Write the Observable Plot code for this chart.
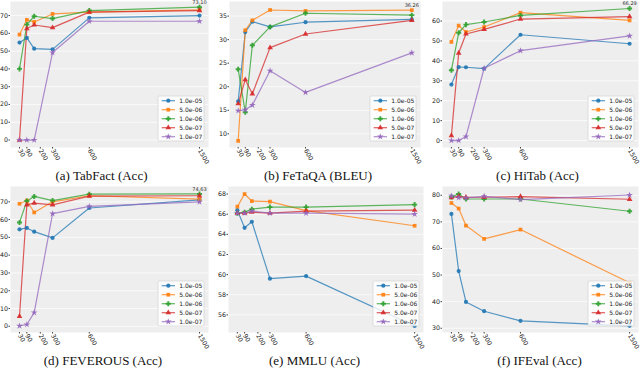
<!DOCTYPE html>
<html><head><meta charset="utf-8">
<script src="https://cdn.jsdelivr.net/npm/d3@7"></script>
<script src="https://cdn.jsdelivr.net/npm/@observablehq/plot@0.6"></script>
<style>
body{margin:0;background:#fff;}
#grid{display:grid;grid-template-columns:213px 213px 214px;width:640px;}
.cell{height:185px;overflow:visible;}
.cap{font-family:"Liberation Serif","Times New Roman",serif;font-size:13px;text-align:center;height:18px;line-height:18px;color:#111;white-space:nowrap;}
</style></head><body><div id="grid"></div>
<script>
const steps = [30, 90, 150, 300, 600, 1500];
const xTicks = [30, 90, 200, 300, 600, 1500];
const lrs = ["1.0e-05", "5.0e-06", "1.0e-06", "5.0e-07", "1.0e-07"];
const colors = ["#1f77b4", "#ff7f0e", "#2ca02c", "#d62728", "#9467bd"];

// rows = learning rates (lrs order), columns = steps
const tabfact = [
  [54.8, 57.4, 51.4, 51.0, 68.7, 70.0],
  [59.3, 67.6, 66.4, 70.9, 71.9, 73.2],
  [40.0, 64.9, 69.6, 68.3, 72.8, 74.7],
  [0.0, 62.7, 64.7, 63.2, 71.9, 72.8],
  [0.0, 0.0, 0.0, 49.2, 66.8, 66.8]
];
const fetaqa = [
  [16.9, 31.6, 33.8, 32.7, 33.7, 34.3],
  [8.5, 32.0, 34.1, 36.3, 36.1, 36.26],
  [23.7, 14.6, 28.8, 32.7, 35.6, 35.2],
  [16.4, 21.5, 18.5, 28.3, 31.2, 34.1],
  [14.9, 15.1, 16.1, 23.4, 18.8, 27.2]
];
const hitab = [
  [28.1, 36.9, 36.8, 36.1, 53.1, 48.6],
  [49.5, 57.7, 54.5, 57.0, 64.2, 60.3],
  [35.3, 54.1, 58.2, 59.5, 62.8, 66.29],
  [2.5, 43.9, 53.5, 55.8, 61.0, 62.2],
  [0.0, 0.0, 2.0, 36.3, 45.1, 52.5]
];
const feverous = [
  [54.5, 55.3, 53.2, 49.7, 66.5, 71.1],
  [68.9, 70.7, 64.0, 70.0, 73.4, 71.5],
  [58.4, 70.4, 73.0, 70.7, 74.3, 74.4],
  [5.6, 68.3, 69.3, 68.3, 73.2, 73.4],
  [0.2, 1.0, 7.7, 63.3, 67.4, 70.0]
];
const mmlu = [
  [66.4, 64.65, 65.25, 59.6, 59.85, 54.9],
  [66.75, 68.0, 67.3, 67.25, 66.35, 64.85],
  [66.1, 66.2, 66.5, 66.7, 66.7, 66.95],
  [66.1, 66.1, 66.2, 66.1, 66.3, 66.4],
  [66.1, 66.1, 66.3, 66.1, 66.1, 66.0]
];
const ifeval = [
  [73.0, 51.5, 39.9, 36.4, 32.8, 30.9],
  [77.1, 75.0, 68.6, 63.6, 67.1, 47.1],
  [79.4, 80.5, 78.6, 78.6, 78.6, 74.0],
  [79.1, 79.6, 79.25, 79.25, 79.5, 78.5],
  [79.75, 79.1, 79.0, 79.6, 78.4, 80.1]
];
const titles = ["(a) TabFact (Acc)", "(b) FeTaQA (BLEU)", "(c) HiTab (Acc)", "(d) FEVEROUS (Acc)", "(e) MMLU (Acc)", "(f) IFEval (Acc)"];
const yTicksA = [0, 10, 20, 30, 40, 50, 60, 70];
const yTicksB = [10, 15, 20, 25, 30, 35];
const yTicksC = [0, 10, 20, 30, 40, 50, 60];
const yTicksD = [0, 10, 20, 30, 40, 50, 60, 70];
const yTicksE = [56, 58, 60, 62, 64, 66, 68];
const yTicksF = [30, 40, 50, 60, 70, 80];
const notes = ["73.10", "36.26", "66.29", "74.63", null, null];
const noteSeries = [2, 1, 2, 2, null, null];

const plusFilled = {
  draw(ctx, size) {
    const r = Math.sqrt(size / Math.PI) * 1.2, w = r * 0.38;
    ctx.moveTo(-w, -r); ctx.lineTo(w, -r); ctx.lineTo(w, -w); ctx.lineTo(r, -w);
    ctx.lineTo(r, w); ctx.lineTo(w, w); ctx.lineTo(w, r); ctx.lineTo(-w, r);
    ctx.lineTo(-w, w); ctx.lineTo(-r, w); ctx.lineTo(-r, -w); ctx.lineTo(-w, -w);
    ctx.closePath();
  }
};
const symbols = [d3.symbolCircle, d3.symbolSquare, plusFilled, d3.symbolTriangle, d3.symbolStar];

const datasets = [tabfact, fetaqa, hitab, feverous, mmlu, ifeval];
const yTickSets = [yTicksA, yTicksB, yTicksC, yTicksD, yTicksE, yTicksF];
const domains = [[-4.2, 77.9], [7.1, 38.1], [-3.5, 69.8], [-3.5, 78.6], [54.25, 68.75], [28.4, 83.3]];
const widths = [213, 213, 214, 213, 213, 214];
const mLeft = [10, 16, 16, 10, 15, 16];
const mRight = [5, 6, 2, 5, 3, 2];
const capShift = [-5, -1.5, 4.5, -3.5, -5, 6.5];
const H = 167, MT = 1, MB = 20;

const grid = document.getElementById("grid");
datasets.forEach((data, p) => {
  const rows = [];
  data.forEach((vals, i) => vals.forEach((v, j) => rows.push({lr: lrs[i], x: steps[j], y: v})));
  const marks = [
    Plot.frame({fill: "#eeeeee", stroke: null}),
    Plot.gridY(yTickSets[p], {stroke: "#ffffff", strokeOpacity: 1, strokeWidth: 0.7}),
    Plot.line(rows, {x: "x", y: "y", z: "lr", stroke: "lr", strokeWidth: 1.2, strokeOpacity: 0.75}),
    Plot.dot(rows, {x: "x", y: "y", fill: "lr", symbol: "lr", r: 2.1, fillOpacity: 0.9, stroke: null}),
    Plot.axisY(yTickSets[p], {label: null, tickFormat: d => String(d), fontSize: 6.3, tickSize: 1.5, tickPadding: 1, stroke: "#444", fill: "#222"}),
    Plot.axisX(xTicks, {label: null, tickFormat: d => String(d), tickRotate: 60, fontSize: 6.3, tickSize: 1.5, tickPadding: 0.5, stroke: "#444", fill: "#222"})
  ];
  if (notes[p]) {
    const s = noteSeries[p];
    marks.push(Plot.text([{x: steps[5], y: data[s][5], t: notes[p]}], {x: "x", y: "y", text: "t", dy: -5, fontSize: 5, fill: "#333"}));
  }
  const W = widths[p];
  const plot = Plot.plot({
    width: W, height: H,
    marginLeft: mLeft[p], marginRight: mRight[p], marginTop: MT, marginBottom: MB,
    style: {fontFamily: "DejaVu Sans, sans-serif", background: "transparent", overflow: "visible"},
    x: {domain: [-43.5, 1573.5], axis: null},
    y: {domain: domains[p], axis: null},
    color: {domain: lrs, range: colors},
    symbol: {domain: lrs, range: symbols},
    marks
  });
  // legend inside the plot area, bottom-right
  const svg = d3.select(plot);
  const right = W - mRight[p], bottom = H - MB;
  const g = svg.append("g").attr("text-anchor", "start");
  g.append("rect").attr("x", right - 50).attr("y", bottom - 51).attr("width", 46).attr("height", 45)
    .attr("rx", 1.5).attr("fill", "#ffffff").attr("fill-opacity", 0.8).attr("stroke", "#cccccc").attr("stroke-width", 0.6);
  lrs.forEach((lr, i) => {
    const y = bottom - 46.3 + i * 9;
    g.append("line").attr("x1", right - 46.3).attr("x2", right - 33).attr("y1", y).attr("y2", y)
      .attr("stroke", colors[i]).attr("stroke-width", 1.2).attr("stroke-opacity", 0.75);
    g.append("path").attr("d", d3.symbol(symbols[i], 2.1 * 2.1 * Math.PI)())
      .attr("transform", `translate(${right - 39.7},${y})`).attr("fill", colors[i]).attr("fill-opacity", 0.9);
    g.append("text").attr("x", right - 28.7).attr("y", y).attr("dy", "0.35em").attr("text-anchor", "start")
      .attr("font-size", 6).attr("fill", "#222").attr("font-family", "DejaVu Sans, sans-serif").text(lr);
  });
  const cell = document.createElement("div");
  cell.className = "cell";
  cell.appendChild(plot);
  const cap = document.createElement("div");
  cap.className = "cap";
  cap.style.transform = `translateX(${capShift[p]}px)`;
  cap.textContent = titles[p];
  cell.appendChild(cap);
  grid.appendChild(cell);
});
</script>
</body></html>
